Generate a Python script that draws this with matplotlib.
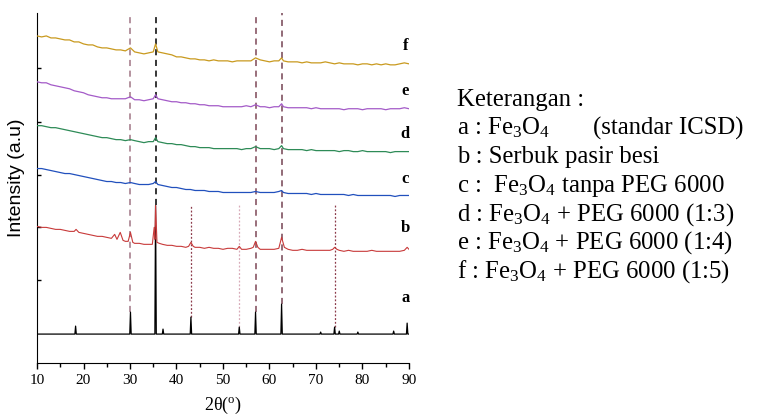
import matplotlib
matplotlib.use('Agg')
import matplotlib.pyplot as plt

plt.rcParams['font.family'] = 'Liberation Serif'
plt.rcParams['mathtext.fontset'] = 'custom'
plt.rcParams['mathtext.rm'] = 'Liberation Serif'
plt.rcParams['mathtext.it'] = 'Liberation Serif:italic'

# 2theta grid shared by samples c - f
grid = ([float(v) for v in range(10, 30)] + [30.1] + [float(v) for v in range(31, 36)] + [35.5]
        + [float(v) for v in range(36, 63)] + [62.6] + [float(v) for v in range(63, 91)])

f_int = [328, 327, 328, 326, 326, 325, 324, 324, 322, 322,
         320, 319, 319, 317, 316, 316, 315, 314, 314, 313,
         316,
         312, 311, 310, 311, 312,
         320,
         312, 311, 310, 309, 307, 307, 306, 305, 305, 304,
         304, 303, 304, 303, 303, 303, 302, 303, 303, 303,
         303, 306, 304, 303, 302, 303, 303,
         306,
         303, 302, 302, 302, 301, 302, 301, 301, 301, 302,
         301, 300, 301, 300, 300, 300, 299, 300, 300, 299,
         300, 299, 300, 299, 299, 300, 301, 300]

e_int = [282, 281, 281, 279, 278, 277, 276, 275, 273, 272,
         271, 269, 268, 267, 266, 266, 265, 265, 265, 265,
         267,
         264, 264, 263, 264, 265,
         269,
         265, 264, 263, 262, 262, 261, 261, 260, 260, 259,
         259, 258, 258, 258, 257, 257, 257, 257, 257, 258,
         257, 259, 257, 257, 256, 257, 257,
         260,
         257, 256, 256, 256, 256, 256, 255, 256, 255, 255,
         255, 255, 255, 254, 255, 255, 255, 254, 255, 255,
         255, 255, 254, 255, 255, 255, 256, 255]

d_int = [238, 238, 237, 236, 236, 235, 234, 233, 232, 231,
         230, 229, 228, 227, 226, 226, 225, 224, 224, 223,
         224,
         223, 222, 221, 222, 222,
         226,
         222, 221, 220, 220, 219, 219, 218, 217, 217, 216,
         216, 216, 215, 215, 215, 215, 215, 215, 214, 215,
         215, 217, 215, 215, 215, 214, 215,
         218,
         215, 214, 214, 214, 214, 213, 214, 213, 213, 213,
         213, 213, 212, 213, 213, 212, 212, 213, 212, 212,
         212, 212, 212, 211, 212, 212, 212, 212]

c_int = [195, 195, 194, 193, 192, 191, 190, 190, 189, 188,
         187, 186, 185, 184, 183, 182, 182, 181, 181, 180,
         181,
         180, 179, 179, 179, 180,
         182,
         179, 178, 177, 176, 176, 175, 174, 174, 173, 173,
         173, 172, 172, 172, 171, 171, 171, 171, 171, 171,
         171, 172, 171, 171, 171, 171, 172,
         173,
         171, 170, 170, 170, 170, 170, 169, 170, 169, 169,
         169, 169, 169, 169, 168, 169, 168, 168, 168, 168,
         168, 168, 168, 168, 167, 168, 168, 168]

# b : serbuk pasir besi
b_x = [10, 11, 12, 13, 14, 15, 16, 17, 18, 18.4, 19, 20, 21, 22, 23, 24, 25, 26,
       26.7, 27.2, 27.9, 28.5, 29, 29.6, 30.1, 30.6, 31, 32, 33, 34, 34.8, 35.2,
       35.35, 35.5, 35.8, 36.3, 37, 38, 39, 40, 41, 42, 42.6, 43.1, 43.6, 44, 45,
       46, 47, 48, 49, 50, 51, 52, 53, 53.5, 54, 55, 56, 56.5, 57, 57.5, 58, 59,
       60, 61, 62, 62.6, 63.2, 64, 65, 66, 67, 68, 69, 70, 71, 72, 73, 73.6, 74,
       74.5, 75, 76, 77, 78, 79, 80, 81, 82, 83, 84, 85, 86, 87, 88, 89, 89.6, 90]
b_int = [137, 136, 136, 135, 134, 134, 133, 132, 132, 134, 131, 130, 129, 128, 127, 127, 126, 125,
         129, 124, 131, 123, 122, 122, 131, 121, 120, 120, 119, 119, 119, 136,
         124, 158, 121, 120, 119, 118, 118, 117, 117, 116, 117, 121, 117, 116, 116,
         115, 116, 115, 115, 114, 115, 115, 114, 117, 114, 114, 115, 116, 122, 116, 114, 114,
         114, 114, 115, 126, 116, 114, 113, 113, 114, 113, 113, 113, 113, 113, 113, 114, 116,
         114, 113, 112, 113, 112, 112, 112, 112, 113, 112, 112, 112, 112, 112, 112, 113, 116, 114]

# a : Fe3O4 standar ICSD (stick-like pattern)
a_x = [10, 18.15, 18.3, 18.45, 29.95, 30.1, 30.25, 35.35, 35.5, 35.65, 36.95, 37.1, 37.25,
       42.95, 43.1, 43.25, 53.35, 53.5, 53.65, 56.85, 57.0, 57.15, 62.45, 62.6, 62.75,
       70.85, 71.0, 71.15, 73.85, 74.0, 74.15, 74.85, 75.0, 75.15, 78.85, 79.0, 79.15,
       86.55, 86.7, 86.85, 89.45, 89.6, 89.75, 90]
a_int = [29, 29, 37, 29, 29, 51, 29, 29, 158, 29, 29, 34, 29,
         29, 46, 29, 29, 36, 29, 29, 51, 29, 29, 59, 29,
         29, 31, 29, 29, 36, 29, 29, 32, 29, 29, 31, 29,
         29, 32, 29, 29, 40, 29, 29]

# reference lines: position, lower end, upper end
dash_pos = [30.1, 35.5, 57.0, 62.6]
dash_lo = [51, 158, 51, 59]
dash_col = ['#a07585', 'black', '#7d4656', '#744252']
dot_pos = [43.1, 53.5, 74.0]
dot_lo = [46, 36, 36]
dot_hi = 158
dot_col = ['#8c3a4a', '#d8aab8', '#8c3a4a']

labels = ['f', 'e', 'd', 'c', 'b', 'a']
label_y = [318, 273, 230, 185, 135, 65]

fig = plt.figure(figsize=(7.59, 4.17), dpi=100)
ax = fig.add_axes([37 / 759, 54 / 417, 372 / 759, 350 / 417])

for x, lo, col in zip(dash_pos, dash_lo, dash_col):
    ax.plot([x, x], [lo, 351], color=col, lw=1.1, ls=(0, (4, 3)), zorder=1)
for x, lo, col in zip(dot_pos, dot_lo, dot_col):
    ax.plot([x, x], [lo, dot_hi], color=col, lw=0.9, ls=(0, (1.5, 1.5)), zorder=1)

ax.plot(a_x, a_int, color='black', lw=0.9, zorder=3)
ax.plot(b_x, b_int, color='#c83a3a', lw=0.8, zorder=3)
ax.plot(grid, c_int, color='#2150bd', lw=0.9, zorder=3)
ax.plot(grid, d_int, color='#2e8b57', lw=0.9, zorder=3)
ax.plot(grid, e_int, color='#a45bc8', lw=0.9, zorder=3)
ax.plot(grid, f_int, color='#c99a1f', lw=0.9, zorder=3)

for lab, y in zip(labels, label_y):
    ax.text(89.2, y, lab, ha='center', va='center', fontsize=12, fontweight='bold')

ax.set_xlim(10, 90)
ax.set_ylim(0, 351)
ax.spines['top'].set_visible(False)
ax.spines['right'].set_visible(False)
ax.set_xticks(range(10, 91, 10))
ax.set_xticks(range(15, 90, 10), minor=True)
ax.tick_params(axis='x', which='major', direction='out', length=4, width=1, labelsize=11, pad=4)
ax.tick_params(axis='x', which='minor', direction='out', length=3, width=1)
ax.set_yticks([83, 136, 189, 242, 296])
ax.tick_params(axis='y', direction='in', length=3, width=1, labelleft=False)
ax.set_xlabel(r'2θ($^{\mathrm{o}}$)', fontsize=13)
ax.xaxis.set_label_coords(0.5, -0.092)
ax.set_ylabel('Intensity (a.u)', fontsize=14, family='Liberation Sans')
ax.yaxis.set_label_coords(-0.033, 0.53)

# keterangan
legend_lines = [r'Keterangan :',
                r'a : Fe$_3$O$_4$',
                r'b : Serbuk pasir besi',
                r'c :  Fe$_3$O$_4$ tanpa PEG 6000',
                r'd : Fe$_3$O$_4$ + PEG 6000 (1:3)',
                r'e : Fe$_3$O$_4$ + PEG 6000 (1:4)',
                r'f : Fe$_3$O$_4$ + PEG 6000 (1:5)']
for i, t in enumerate(legend_lines):
    yb = 106 + 28.6 * i
    fig.text(457 / 759, 1 - yb / 417, t, fontsize=17.8, va='baseline', ha='left')
fig.text(593 / 759, 1 - (106 + 28.6) / 417, '(standar ICSD)', fontsize=17.8, va='baseline', ha='left')

fig.savefig('out.png', dpi=100)
